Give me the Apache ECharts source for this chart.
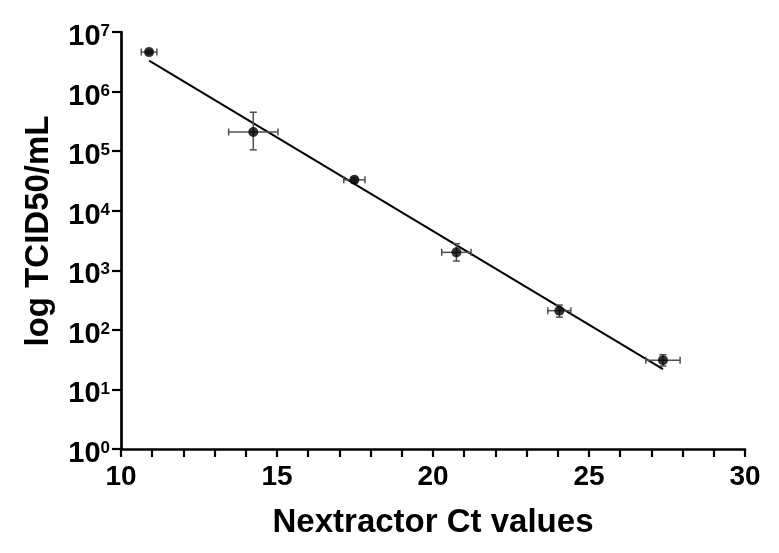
<!DOCTYPE html>
<html>
<head>
<meta charset="utf-8">
<script src="https://cdn.jsdelivr.net/npm/echarts@6/dist/echarts.min.js"></script>
<style>html,body{margin:0;padding:0;background:#fff}#c{width:779px;height:553px}</style>
</head>
<body>
<div id="c"></div>
<script>
// Data
var ctValues = [10.9, 14.24, 17.48, 20.75, 24.05, 27.37];
var ctErr = [0.25, 0.79, 0.34, 0.47, 0.37, 0.55];
var titer = [4.6e6, 2.1e5, 3.3e4, 2.0e3, 210, 31];
var titerLow = [4.3e6, 1.05e5, 3.0e4, 1.43e3, 163, 24.7];
var titerHigh = [4.9e6, 4.5e5, 3.6e4, 2.8e3, 261, 38.3];
var fitX = [10.9, 27.37];
var fitY = [3.3e6, 22];
var xTicks = [10, 15, 20, 25, 30];
var yExponents = [0, 1, 2, 3, 4, 5, 6, 7];

var points = ctValues.map(function (x, i) { return [x, titer[i]]; });
var errData = ctValues.map(function (x, i) { return [x, titer[i], ctErr[i], titerLow[i], titerHigh[i]]; });
var fitData = fitX.map(function (x, i) { return [x, fitY[i]]; });

var chart = echarts.init(document.getElementById('c'), null, {renderer: 'canvas'});
var FONT = '"Liberation Sans", Arial, sans-serif';
var errColor = '#505050';

function renderErr(params, api) {
  var x = api.value(0), y = api.value(1), dx = api.value(2), lo = api.value(3), hi = api.value(4);
  var pL = api.coord([x - dx, y]), pR = api.coord([x + dx, y]);
  var pT = api.coord([x, hi]), pB = api.coord([x, lo]);
  var cap = 3.5;
  var st = {stroke: errColor, lineWidth: 1.5, fill: null};
  var lines = [
    [pL, pR],
    [[pL[0], pL[1] - cap], [pL[0], pL[1] + cap]],
    [[pR[0], pR[1] - cap], [pR[0], pR[1] + cap]],
    [pT, pB],
    [[pT[0] - cap, pT[1]], [pT[0] + cap, pT[1]]],
    [[pB[0] - cap, pB[1]], [pB[0] + cap, pB[1]]]
  ];
  return {
    type: 'group',
    children: lines.map(function (l) {
      return {type: 'line', shape: {x1: l[0][0], y1: l[0][1], x2: l[1][0], y2: l[1][1]}, style: st};
    })
  };
}

chart.setOption({
  animation: false,
  backgroundColor: '#fff',
  grid: {left: 121, right: 34, top: 32, bottom: 104, containLabel: false},
  xAxis: {
    type: 'value', min: 10, max: 30, interval: 5,
    name: 'Nextractor Ct values', nameLocation: 'middle', nameGap: 57,
    nameTextStyle: {fontFamily: FONT, fontWeight: 'bold', fontSize: 33, color: '#000'},
    axisLine: {show: true, lineStyle: {color: '#000', width: 2.7}},
    axisTick: {show: true, length: 8, lineStyle: {color: '#000', width: 2.2}},
    minorTick: {show: true, splitNumber: 5, length: 8, lineStyle: {color: '#000', width: 2.2}},
    splitLine: {show: false},
    axisLabel: {fontFamily: FONT, fontWeight: 'bold', fontSize: 28, color: '#000', margin: 14,
      formatter: function (v) { return xTicks.indexOf(v) >= 0 ? String(v) : ''; }}
  },
  yAxis: {
    type: 'log', logBase: 10, min: 1, max: 1e7,
    name: 'log TCID50/mL', nameLocation: 'middle', nameGap: 66,
    nameTextStyle: {fontFamily: FONT, fontWeight: 'bold', fontSize: 33, color: '#000', padding: [0, 0, 0, 19]},
    axisLine: {show: true, lineStyle: {color: '#000', width: 2.7}},
    axisTick: {show: true, length: 9, lineStyle: {color: '#000', width: 2.2}},
    splitLine: {show: false},
    axisLabel: {
      margin: 11, padding: [10, 0, 0, 0],
      formatter: function (v) {
        var e = Math.round(Math.log10(v));
        return yExponents.indexOf(e) >= 0 ? '{b|10}{s|' + e + '}' : '';
      },
      rich: {
        b: {fontFamily: FONT, fontWeight: 'bold', fontSize: 29, lineHeight: 28, color: '#000'},
        s: {fontFamily: FONT, fontWeight: 'bold', fontSize: 17, lineHeight: 14, verticalAlign: 'top', color: '#000'}
      }
    }
  },
  series: [
    {type: 'line', data: fitData, symbol: 'none', lineStyle: {color: '#000', width: 2}, z: 2},
    {type: 'custom', data: errData, renderItem: renderErr, z: 3,
      encode: {x: 0, y: 1}},
    {type: 'scatter', data: points, symbol: 'circle', symbolSize: 10, itemStyle: {color: '#000'}, z: 4}
  ]
});
</script>
</body>
</html>
